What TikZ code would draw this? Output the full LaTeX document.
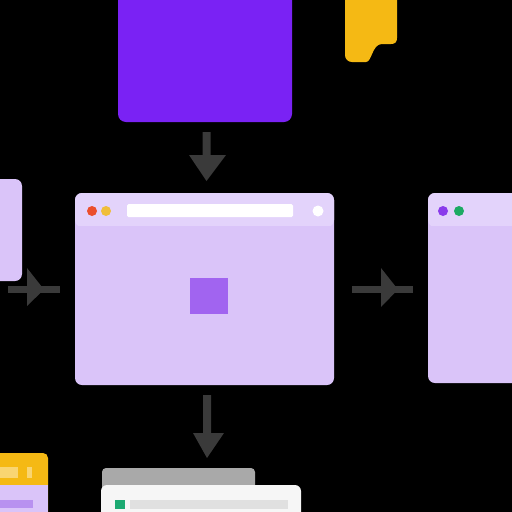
\documentclass[tikz,border=0pt]{standalone}
\usepackage{tikz}
\definecolor{bgk}{HTML}{000000}
\definecolor{violet}{HTML}{7A22F4}
\definecolor{amber}{HTML}{F5B914}
\definecolor{lav}{HTML}{DAC4F9}
\definecolor{lavbar}{HTML}{E3D3FB}
\definecolor{sq}{HTML}{A164F0}
\definecolor{arr}{HTML}{3A3A3A}
\definecolor{dred}{HTML}{EB4F2C}
\definecolor{dyel}{HTML}{F0BE3A}
\definecolor{dpur}{HTML}{8A3BEB}
\definecolor{dgrn}{HTML}{1DAA63}
\definecolor{greyw}{HTML}{A9A9A9}
\definecolor{cardw}{HTML}{F6F6F6}
\definecolor{cardbar}{HTML}{E0E0E0}
\definecolor{cardgrn}{HTML}{1DAA72}
\definecolor{lbar}{HTML}{B891F0}
\tikzset{
  win/.style={fill=lav, rounded corners=7pt},
  arrowfill/.style={fill=arr},
  dot/.style={circle, inner sep=0pt, minimum size=10pt}
}
\begin{document}
\begin{tikzpicture}[x=1pt,y=-1pt]
\fill[bgk] (0,0) rectangle (512,512);
\useasboundingbox (0,0) rectangle (512,512);
\begin{scope}
\clip (0,0) rectangle (512,512);
% top purple block
\fill[violet, rounded corners=8pt] (118,-20) rectangle (292,122);
% top-right yellow notch block
\fill[amber] (345,-10) -- (345,55) .. controls (345,59) and (348,62) .. (352,62) -- (366,62)
  .. controls (372,62) and (372,44) .. (382,44) -- (391,44)
  .. controls (395,44) and (397,42) .. (397,38) -- (397,-10) -- cycle;
% down arrow 1
\fill[arrowfill] (202.5,132) -- (210.5,132) -- (210.5,155) -- (226,155) -- (206.5,181) -- (189,155) -- (202.5,155) -- cycle;
% centre window
\fill[win] (75,193) rectangle (334,385);
\fill[lavbar, rounded corners=7pt] (75,193) rectangle (334,227);
\fill[lav] (75,226) rectangle (334,230);
\node[dot, fill=dred] (r1) at (92,211) {};
\node[dot, fill=dyel] (y1) at (106,211) {};
\fill[white, rounded corners=1.5pt] (127,204) rectangle (293,217);
\node[dot, fill=white, minimum size=11pt] (w1) at (318,211) {};
\fill[sq] (190,278) rectangle (228,314);
% right window
\fill[win] (428,193) rectangle (540,383);
\fill[lavbar, rounded corners=7pt] (428,193) rectangle (540,227);
\fill[lav] (428,226) rectangle (540,230);
\node[dot, fill=dpur] (p2) at (443,211) {};
\node[dot, fill=dgrn] (g2) at (459,211) {};
% left window
\fill[win] (-20,179) rectangle (22,281);
% left arrow
\fill[arrowfill] (8,286) -- (60,286) -- (60,293) -- (8,293) -- cycle;
\fill[arrowfill] (27,268) -- (44,289.5) -- (27,306) -- cycle;
% right arrow
\fill[arrowfill] (352,286) -- (413,286) -- (413,293) -- (352,293) -- cycle;
\fill[arrowfill] (381,268) -- (398,289.5) -- (381,307) -- cycle;
% down arrow 2
\fill[arrowfill] (203,395) -- (211,395) -- (211,433) -- (224,433) -- (207,458) -- (193,433) -- (203,433) -- cycle;
% bottom grey window
\fill[greyw, rounded corners=4pt] (102,468) rectangle (255,530);
% bottom white card
\fill[cardw, rounded corners=6pt] (101,485) rectangle (301,530);
\fill[cardgrn] (115,500) rectangle (125,509);
\fill[cardbar] (130,500) rectangle (288,509);
% bottom-left stacked card
\fill[amber, rounded corners=5pt] (-10,453) rectangle (48,530);
\fill[lav] (-10,485) rectangle (48,530);
\fill[lbar] (-5,500) rectangle (33,508);
\fill[amber!60!white] (0,467) rectangle (18,478);
\fill[amber!60!white] (27,467) rectangle (32,478);
\end{scope}
\end{tikzpicture}
\end{document}
